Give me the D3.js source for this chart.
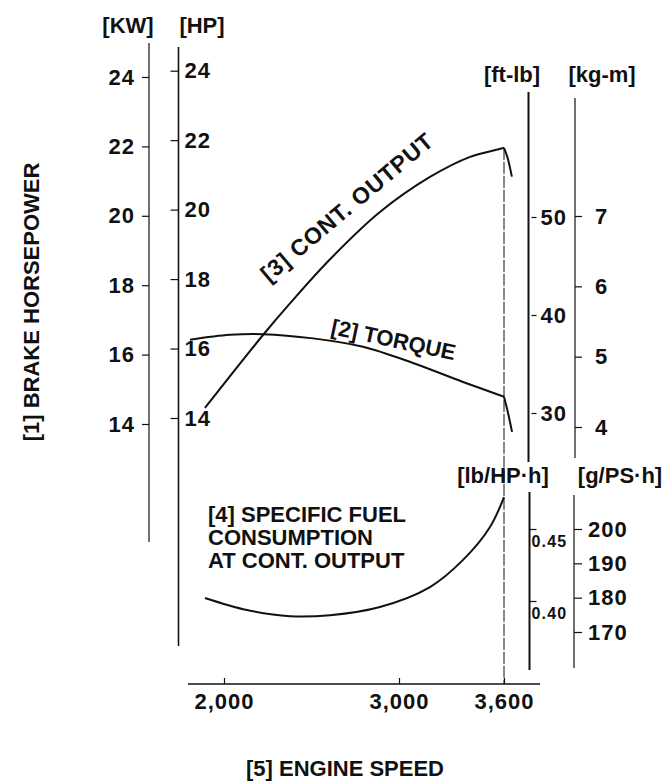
<!DOCTYPE html>
<html lang="en">
<head>
<meta charset="utf-8">
<title>Engine performance curves</title>
<script src="https://cdn.jsdelivr.net/npm/d3@7"></script>
<style>
  body { margin: 0; background: #fff; }
  svg text { font-family: "Liberation Sans", Arial, Helvetica, sans-serif; font-weight: bold; fill: #111; }
  .tick text { font-size: 22px; letter-spacing: 1px; }
  .small .tick text { font-size: 16px; letter-spacing: 1.2px; }
  .tick line { stroke: #111; stroke-width: 1.2; }
  .ax { stroke: #111; fill: none; }
  .curve { stroke: #111; stroke-width: 2; fill: none; }
  .lbl { font-size: 22px; }
</style>
</head>
<body>
<script>
// engine speed ticks
var rpmTicks = [2000, 3000, 3600];

// [3] continuous output (HP)
var outputRpm = [1891, 2223, 2377, 2606, 2891, 3177, 3406, 3570, 3600, 3620, 3645];
var outputHp  = [14.29, 16.39, 17.30, 18.57, 19.93, 20.94, 21.52, 21.74, 21.78, 21.5, 20.95];

// [2] torque (kg-m)
var torqueRpm = [1806, 2034, 2223, 2509, 2794, 3080, 3366, 3600, 3623, 3646];
var torqueKgm = [5.24, 5.31, 5.32, 5.26, 5.14, 4.91, 4.64, 4.43, 4.20, 3.93];

// [4] specific fuel consumption (g/PS.h)
var fuelRpm = [1891, 2131, 2377, 2606, 2891, 3177, 3366, 3520, 3600];
var fuelGps = [179.9, 176.4, 174.6, 174.9, 177.3, 183.1, 191.0, 200.6, 209.3];

// axis ticks
var kwTicks = [14, 16, 18, 20, 22, 24];
var hpTicks = [14, 16, 18, 20, 22, 24];
var ftlbTicks = [30, 40, 50];
var kgmTicks = [4, 5, 6, 7];
var lbhpTicks = [0.40, 0.45];
var gpsTicks = [170, 180, 190, 200];

var ratedRpm = 3600;
var width = 666, height = 782;

var svg = d3.select("body").append("svg")
    .attr("width", width)
    .attr("height", height);

var x = d3.scaleLinear().domain([2000, 3600]).range([224, 504]);
var yKw = d3.scaleLinear().domain([14, 24]).range([424, 77]);
var yHp = d3.scaleLinear().domain([14, 24]).range([418, 70.7]);
var yFtlb = d3.scaleLinear().domain([30, 50]).range([413, 217]);
var yKgm = d3.scaleLinear().domain([4, 7]).range([427, 216]);
var yLbhp = d3.scaleLinear().domain([0.40, 0.45]).range([601, 529]);
var yGps = d3.scaleLinear().domain([170, 200]).range([632, 529]);

function axisLine(x1, y1, x2, y2, w) {
  svg.append("line").attr("class", "ax")
    .attr("x1", x1).attr("y1", y1).attr("x2", x2).attr("y2", y2)
    .attr("stroke-width", w);
}

// vertical axis lines (longer than the tick range, as in the original)
axisLine(149, 43, 149, 542, 1.2);   // KW
axisLine(178.5, 47, 178.5, 646, 1.6); // HP
axisLine(528.5, 92, 528.5, 462, 2); // ft-lb
axisLine(575, 98, 575, 458, 1.2);   // kg-m
axisLine(529.5, 492, 529.5, 670, 2); // lb/HP.h
axisLine(574, 495, 574, 668, 1.2);  // g/PS.h
axisLine(188, 684, 540, 684, 1.6);  // engine speed

// KW axis: ticks and labels on the left
svg.append("g").attr("transform", "translate(149,0)")
  .call(d3.axisLeft(yKw).tickValues(kwTicks).tickSize(7).tickPadding(7))
  .call(function(g) { g.select(".domain").remove(); });

// HP axis: ticks to the left, labels to the right
svg.append("g").attr("transform", "translate(178.5,0)")
  .call(d3.axisRight(yHp).tickValues(hpTicks).tickSize(-8).tickPadding(6))
  .call(function(g) { g.select(".domain").remove(); });

// ft-lb axis
svg.append("g").attr("transform", "translate(528.5,0)")
  .call(d3.axisRight(yFtlb).tickValues(ftlbTicks).tickSize(8).tickPadding(4))
  .call(function(g) { g.select(".domain").remove(); g.selectAll(".tick line").attr("x1", 3); });

// kg-m axis
svg.append("g").attr("transform", "translate(575,0)")
  .call(d3.axisRight(yKgm).tickValues(kgmTicks).tickSize(7).tickPadding(13).tickFormat(d3.format("d")))
  .call(function(g) { g.select(".domain").remove(); });

// lb/HP.h axis, small labels hanging under the tick
svg.append("g").attr("class", "small").attr("transform", "translate(529.5,0)")
  .call(d3.axisRight(yLbhp).tickValues(lbhpTicks).tickSize(7).tickPadding(0).tickFormat(d3.format(".2f")))
  .call(function(g) {
    g.select(".domain").remove();
    g.selectAll(".tick text").attr("x", 2).attr("dy", "1.1em");
  });

// g/PS.h axis
svg.append("g").attr("transform", "translate(574,0)")
  .call(d3.axisRight(yGps).tickValues(gpsTicks).tickSize(8).tickPadding(6))
  .call(function(g) { g.select(".domain").remove(); });

// engine speed axis, ticks pointing up
svg.append("g").attr("transform", "translate(0,684)")
  .call(d3.axisBottom(x).tickValues(rpmTicks).tickSize(-6).tickPadding(9).tickFormat(d3.format(",d")))
  .call(function(g) { g.select(".domain").remove(); });

// rated speed reference line
svg.append("line")
  .attr("x1", x(ratedRpm)).attr("x2", x(ratedRpm))
  .attr("y1", yHp(21.78)).attr("y2", 684)
  .attr("stroke", "#111").attr("stroke-width", 1)
  .attr("stroke-dasharray", "12,2");

// draw a curve in two pieces, so it breaks sharply at the rated speed
function drawCurve(rpm, vals, yScale) {
  var pts = rpm.map(function(r, i) { return [r, vals[i]]; });
  var line = d3.line()
    .x(function(d) { return x(d[0]); })
    .y(function(d) { return yScale(d[1]); })
    .curve(d3.curveCatmullRom.alpha(0.5));
  var main = pts.filter(function(d) { return d[0] <= ratedRpm; });
  var tail = pts.filter(function(d) { return d[0] >= ratedRpm; });
  svg.append("path").attr("class", "curve").attr("d", line(main));
  if (tail.length > 1) svg.append("path").attr("class", "curve").attr("d", line(tail));
}
drawCurve(outputRpm, outputHp, yHp);
drawCurve(torqueRpm, torqueKgm, yKgm);
drawCurve(fuelRpm, fuelGps, yGps);

// text labels
function label(txt, cx, cy, anchor) {
  return svg.append("text").attr("class", "lbl")
    .attr("x", cx).attr("y", cy)
    .attr("text-anchor", anchor || "middle")
    .text(txt);
}
label("[KW]", 128, 33);
label("[HP]", 202, 33);
label("[ft-lb]", 512, 82);
label("[kg-m]", 602, 82);
label("[lb/HP\u00b7h]", 503, 483);
label("[g/PS\u00b7h]", 620, 483);

label("[3] CONT. OUTPUT", 269, 283, "start")
  .style("font-size", "23px").style("letter-spacing", "0.8px")
  .attr("transform", "rotate(-40,269,283)");
label("[2] TORQUE", 330, 334, "start").attr("transform", "rotate(12,330,334)");
label("[4] SPECIFIC FUEL", 208, 522, "start");
label("CONSUMPTION", 208, 545, "start");
label("AT CONT. OUTPUT", 208, 568, "start");

label("[5] ENGINE SPEED", 345, 776);
label("[1] BRAKE HORSEPOWER", 31, 302)
  .attr("dominant-baseline", "central")
  .attr("transform", "rotate(-90,31,302)");
</script>
</body>
</html>
